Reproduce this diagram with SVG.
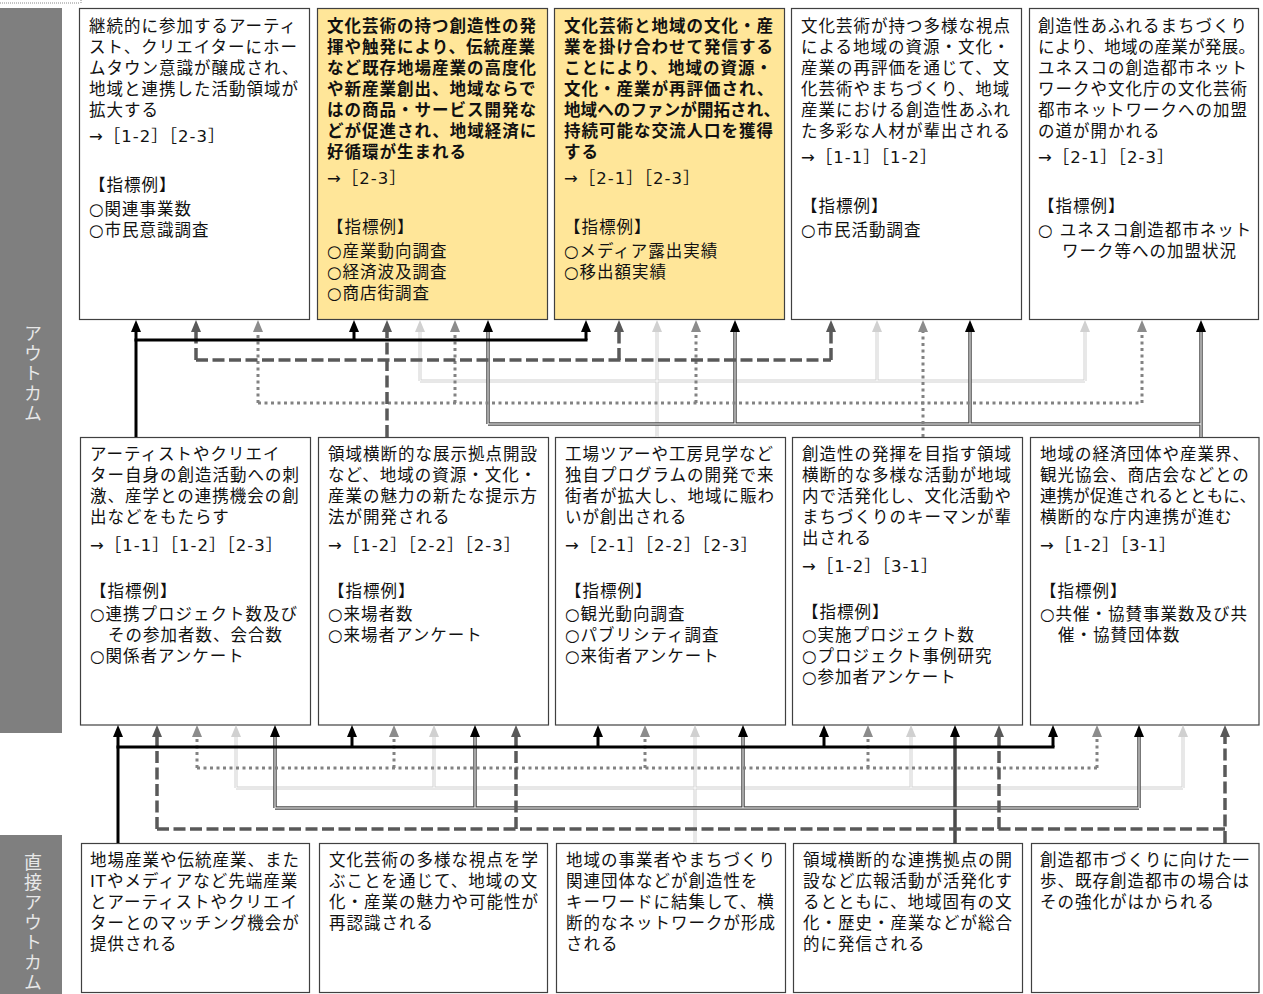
<svg xmlns="http://www.w3.org/2000/svg" width="1263" height="994" viewBox="0 0 1263 994">
<defs>
<style>
.box{fill:#fff;stroke:#404040;stroke-width:1.2}
.yel{fill:#ffe699}
.t{font-family:"DejaVu Sans","Noto Sans CJK JP",sans-serif;font-size:16.5px;letter-spacing:1px;fill:#111}
.b{font-weight:bold}
.side{fill:#7f7f7f}
.st{font-family:"Noto Sans CJK JP",sans-serif;font-size:18px;letter-spacing:2px;fill:#e8e8e8;writing-mode:vertical-rl}
.blk{stroke:#000;stroke-width:3;fill:none}
.dsh{stroke:#595959;stroke-width:3.5;stroke-dasharray:12 4.5;fill:none}
.dot{stroke:#828282;stroke-width:3;stroke-dasharray:3 3.5;fill:none}
.lt{stroke:#d0d0d0;stroke-width:3;fill:none}
.dbl{stroke:#4a4a4a;stroke-width:3.5;fill:none}
.inw{stroke:#fff;stroke-width:1;fill:none}
</style>
<marker id="aK" markerUnits="userSpaceOnUse" markerWidth="12" markerHeight="12" viewBox="0 0 12 12" refX="0" refY="6" orient="auto"><path d="M0,1 L12,6 L0,11 z" fill="#000"/></marker>
<marker id="aD" markerUnits="userSpaceOnUse" markerWidth="12" markerHeight="12" viewBox="0 0 12 12" refX="0" refY="6" orient="auto"><path d="M0,1 L12,6 L0,11 z" fill="#595959"/></marker>
<marker id="aG" markerUnits="userSpaceOnUse" markerWidth="12" markerHeight="12" viewBox="0 0 12 12" refX="0" refY="6" orient="auto"><path d="M0,1 L12,6 L0,11 z" fill="#8c8c8c"/></marker>
<marker id="aL" markerUnits="userSpaceOnUse" markerWidth="12" markerHeight="12" viewBox="0 0 12 12" refX="0" refY="6" orient="auto"><path d="M0,1 L12,6 L0,11 z" fill="#d0d0d0"/></marker>
</defs>
<rect width="1263" height="994" fill="#fff"/>
<path d="M0,3H80M81,0V3" stroke="#888" stroke-width="1" stroke-dasharray="1 1" fill="none"/>

<g id="side-outcome">
<rect class="side" x="0" y="8" width="62" height="725"/>
<text class="st" x="33" y="324">アウトカム</text>
</g>
<g id="side-direct">
<rect class="side" x="0" y="835" width="62" height="159"/>
<text class="st" x="33" y="853">直接アウトカム</text>
</g>

<g id="o1">
<rect class="box" x="79.5" y="8.5" width="230" height="311"/>
<text class="t"><tspan x="89" y="32">継続的に参加するアーティ</tspan><tspan x="89" y="53">スト、クリエイターにホー</tspan><tspan x="89" y="74">ムタウン意識が醸成され、</tspan><tspan x="89" y="95">地域と連携した活動領域が</tspan><tspan x="89" y="116">拡大する</tspan><tspan x="89" y="142">→［1-2］［2-3］</tspan><tspan x="89" y="191">【指標例】</tspan><tspan x="89" y="215">○関連事業数</tspan><tspan x="89" y="236">○市民意識調査</tspan></text>
</g>
<g id="o2">
<rect class="box yel" x="317.5" y="8.5" width="230" height="311"/>
<text class="t b"><tspan x="327" y="32">文化芸術の持つ創造性の発</tspan><tspan x="327" y="53">揮や触発により、伝統産業</tspan><tspan x="327" y="74">など既存地場産業の高度化</tspan><tspan x="327" y="95">や新産業創出、地域ならで</tspan><tspan x="327" y="116">はの商品・サービス開発な</tspan><tspan x="327" y="137">どが促進され、地域経済に</tspan><tspan x="327" y="158">好循環が生まれる</tspan></text>
<text class="t"><tspan x="327" y="184">→［2-3］</tspan><tspan x="327" y="233">【指標例】</tspan><tspan x="327" y="257">○産業動向調査</tspan><tspan x="327" y="278">○経済波及調査</tspan><tspan x="327" y="299">○商店街調査</tspan></text>
</g>
<g id="o3">
<rect class="box yel" x="554.5" y="8.5" width="230" height="311"/>
<text class="t b"><tspan x="564" y="32">文化芸術と地域の文化・産</tspan><tspan x="564" y="53">業を掛け合わせて発信する</tspan><tspan x="564" y="74">ことにより、地域の資源・</tspan><tspan x="564" y="95">文化・産業が再評価され、</tspan><tspan x="564" y="116" textLength="217" lengthAdjust="spacing">地域へのファンが開拓され、</tspan><tspan x="564" y="137">持続可能な交流人口を獲得</tspan><tspan x="564" y="158">する</tspan></text>
<text class="t"><tspan x="564" y="184">→［2-1］［2-3］</tspan><tspan x="564" y="233">【指標例】</tspan><tspan x="564" y="257">○メディア露出実績</tspan><tspan x="564" y="278">○移出額実績</tspan></text>
</g>
<g id="o4">
<rect class="box" x="791.5" y="8.5" width="230" height="311"/>
<text class="t"><tspan x="801" y="32">文化芸術が持つ多様な視点</tspan><tspan x="801" y="53">による地域の資源・文化・</tspan><tspan x="801" y="74">産業の再評価を通じて、文</tspan><tspan x="801" y="95">化芸術やまちづくり、地域</tspan><tspan x="801" y="116">産業における創造性あふれ</tspan><tspan x="801" y="137">た多彩な人材が輩出される</tspan><tspan x="801" y="163">→［1-1］［1-2］</tspan><tspan x="801" y="212">【指標例】</tspan><tspan x="801" y="236">○市民活動調査</tspan></text>
</g>
<g id="o5">
<rect class="box" x="1029.5" y="8.5" width="229" height="311"/>
<text class="t"><tspan x="1038" y="32">創造性あふれるまちづくり</tspan><tspan x="1038" y="53" textLength="218" lengthAdjust="spacing">により、地域の産業が発展。</tspan><tspan x="1038" y="74">ユネスコの創造都市ネット</tspan><tspan x="1038" y="95">ワークや文化庁の文化芸術</tspan><tspan x="1038" y="116">都市ネットワークへの加盟</tspan><tspan x="1038" y="137">の道が開かれる</tspan><tspan x="1038" y="163">→［2-1］［2-3］</tspan><tspan x="1038" y="212">【指標例】</tspan><tspan x="1038" y="236">○ ユネスコ創造都市ネット</tspan><tspan x="1062" y="257">ワーク等への加盟状況</tspan></text>
</g>

<g id="m1">
<rect class="box" x="80.5" y="437.5" width="230" height="287.5"/>
<text class="t"><tspan x="90" y="460">アーティストやクリエイ</tspan><tspan x="90" y="481">ター自身の創造活動への刺</tspan><tspan x="90" y="502">激、産学との連携機会の創</tspan><tspan x="90" y="523">出などをもたらす</tspan><tspan x="90" y="551">→［1-1］［1-2］［2-3］</tspan><tspan x="90" y="597">【指標例】</tspan><tspan x="90" y="620">○連携プロジェクト数及び</tspan><tspan x="108" y="641">その参加者数、会合数</tspan><tspan x="90" y="662">○関係者アンケート</tspan></text>
</g>
<g id="m2">
<rect class="box" x="318.5" y="437.5" width="230" height="287.5"/>
<text class="t"><tspan x="328" y="460">領域横断的な展示拠点開設</tspan><tspan x="328" y="481">など、地域の資源・文化・</tspan><tspan x="328" y="502">産業の魅力の新たな提示方</tspan><tspan x="328" y="523">法が開発される</tspan><tspan x="328" y="551">→［1-2］［2-2］［2-3］</tspan><tspan x="328" y="597">【指標例】</tspan><tspan x="328" y="620">○来場者数</tspan><tspan x="328" y="641">○来場者アンケート</tspan></text>
</g>
<g id="m3">
<rect class="box" x="555.5" y="437.5" width="230" height="287.5"/>
<text class="t"><tspan x="565" y="460">工場ツアーや工房見学など</tspan><tspan x="565" y="481">独自プログラムの開発で来</tspan><tspan x="565" y="502">街者が拡大し、地域に賑わ</tspan><tspan x="565" y="523">いが創出される</tspan><tspan x="565" y="551">→［2-1］［2-2］［2-3］</tspan><tspan x="565" y="597">【指標例】</tspan><tspan x="565" y="620">○観光動向調査</tspan><tspan x="565" y="641">○パブリシティ調査</tspan><tspan x="565" y="662">○来街者アンケート</tspan></text>
</g>
<g id="m4">
<rect class="box" x="792.5" y="437.5" width="230" height="287.5"/>
<text class="t"><tspan x="802" y="460">創造性の発揮を目指す領域</tspan><tspan x="802" y="481">横断的な多様な活動が地域</tspan><tspan x="802" y="502">内で活発化し、文化活動や</tspan><tspan x="802" y="523">まちづくりのキーマンが輩</tspan><tspan x="802" y="544">出される</tspan><tspan x="802" y="572">→［1-2］［3-1］</tspan><tspan x="802" y="618">【指標例】</tspan><tspan x="802" y="641">○実施プロジェクト数</tspan><tspan x="802" y="662">○プロジェクト事例研究</tspan><tspan x="802" y="683">○参加者アンケート</tspan></text>
</g>
<g id="m5">
<rect class="box" x="1030.5" y="437.5" width="228.5" height="287.5"/>
<text class="t"><tspan x="1040" y="460">地域の経済団体や産業界、</tspan><tspan x="1040" y="481">観光協会、商店会などとの</tspan><tspan x="1040" y="502" textLength="217" lengthAdjust="spacing">連携が促進されるとともに、</tspan><tspan x="1040" y="523">横断的な庁内連携が進む</tspan><tspan x="1040" y="551">→［1-2］［3-1］</tspan><tspan x="1040" y="597">【指標例】</tspan><tspan x="1040" y="620">○共催・協賛事業数及び共</tspan><tspan x="1058" y="641">催・協賛団体数</tspan></text>
</g>

<g id="d1">
<rect class="box" x="81.5" y="843.5" width="228" height="149"/>
<text class="t"><tspan x="90" y="866">地場産業や伝統産業、また</tspan><tspan x="90" y="887">ITやメディアなど先端産業</tspan><tspan x="90" y="908">とアーティストやクリエイ</tspan><tspan x="90" y="929">ターとのマッチング機会が</tspan><tspan x="90" y="950">提供される</tspan></text>
</g>
<g id="d2">
<rect class="box" x="319.5" y="843.5" width="228" height="149"/>
<text class="t"><tspan x="329" y="866">文化芸術の多様な視点を学</tspan><tspan x="329" y="887">ぶことを通じて、地域の文</tspan><tspan x="329" y="908">化・産業の魅力や可能性が</tspan><tspan x="329" y="929">再認識される</tspan></text>
</g>
<g id="d3">
<rect class="box" x="556.5" y="843.5" width="229" height="149"/>
<text class="t"><tspan x="566" y="866">地域の事業者やまちづくり</tspan><tspan x="566" y="887">関連団体などが創造性を</tspan><tspan x="566" y="908">キーワードに結集して、横</tspan><tspan x="566" y="929">断的なネットワークが形成</tspan><tspan x="566" y="950">される</tspan></text>
</g>
<g id="d4">
<rect class="box" x="793.5" y="843.5" width="229" height="149"/>
<text class="t"><tspan x="803" y="866">領域横断的な連携拠点の開</tspan><tspan x="803" y="887">設など広報活動が活発化す</tspan><tspan x="803" y="908">るとともに、地域固有の文</tspan><tspan x="803" y="929">化・歴史・産業などが総合</tspan><tspan x="803" y="950">的に発信される</tspan></text>
</g>
<g id="d5">
<rect class="box" x="1031.5" y="843.5" width="227.5" height="149"/>
<text class="t"><tspan x="1040" y="866">創造都市づくりに向けた一</tspan><tspan x="1040" y="887">歩、既存創造都市の場合は</tspan><tspan x="1040" y="908">その強化がはかられる</tspan></text>
</g>

<g id="connectors">
<g class="lt">
<path d="M420,381H1085"/>
<path d="M420,381V332" marker-end="url(#aL)"/>
<path d="M657,437V332" marker-end="url(#aL)"/>
<path d="M877,381V332" marker-end="url(#aL)"/>
<path d="M1085,381V332" marker-end="url(#aL)"/>
</g>
<g class="inw"><path d="M420,381H1085M420,381V332M657,437V332M877,381V332M1085,381V332"/></g>
<g class="dbl">
<path d="M488,424H1201"/>
<path d="M488,424V332" marker-end="url(#aK)"/>
<path d="M735,424V332" marker-end="url(#aK)"/>
<path d="M970,424V332" marker-end="url(#aK)"/>
<path d="M1201,437V332" marker-end="url(#aK)"/>
</g>
<g class="inw"><path d="M488,424H1201M488,424V332M735,424V332M970,424V332M1201,437V332"/></g>
<g class="dot">
<path d="M258,403H1142"/>
<path d="M258,403V332" marker-end="url(#aG)"/>
<path d="M455,403V332" marker-end="url(#aG)"/>
<path d="M696,403V332" marker-end="url(#aG)"/>
<path d="M923,437V332" marker-end="url(#aG)"/>
<path d="M1142,403V332" marker-end="url(#aG)"/>
</g>
<g class="dsh">
<path d="M196,360H831"/>
<path d="M196,360V332" marker-end="url(#aD)"/>
<path d="M387,437V332" marker-end="url(#aD)"/>
<path d="M619,360V332" marker-end="url(#aD)"/>
<path d="M831,360V332" marker-end="url(#aD)"/>
</g>
<g class="blk">
<path d="M134.5,340H587.5"/>
<path d="M136,437V332" marker-end="url(#aK)"/>
<path d="M354,340V332" marker-end="url(#aK)"/>
<path d="M586,340V332" marker-end="url(#aK)"/>
</g>
<g class="lt">
<path d="M236,788H1183"/>
<path d="M236,788V737" marker-end="url(#aL)"/>
<path d="M434,788V737" marker-end="url(#aL)"/>
<path d="M695,843V737" marker-end="url(#aL)"/>
<path d="M911,788V737" marker-end="url(#aL)"/>
<path d="M1183,788V737" marker-end="url(#aL)"/>
</g>
<g class="inw"><path d="M236,788H1183M236,788V737M434,788V737M695,843V737M911,788V737M1183,788V737"/></g>
<g class="dbl">
<path d="M275,808H1139"/>
<path d="M275,808V737" marker-end="url(#aK)"/>
<path d="M475,808V737" marker-end="url(#aK)"/>
<path d="M743,808V737" marker-end="url(#aK)"/>
<path d="M955,843V737" marker-end="url(#aK)"/>
<path d="M1139,808V737" marker-end="url(#aK)"/>
</g>
<g class="inw"><path d="M275,808H1139M275,808V737M475,808V737M743,808V737M1139,808V737"/></g>
<g class="dot">
<path d="M197,768H1097"/>
<path d="M197,768V737" marker-end="url(#aG)"/>
<path d="M394,768V737" marker-end="url(#aG)"/>
<path d="M645,768V737" marker-end="url(#aG)"/>
<path d="M868,768V737" marker-end="url(#aG)"/>
<path d="M1097,768V737" marker-end="url(#aG)"/>
</g>
<g class="dsh">
<path d="M157,829H1225"/>
<path d="M157,829V737" marker-end="url(#aD)"/>
<path d="M516,829V737" marker-end="url(#aD)"/>
<path d="M999,829V737" marker-end="url(#aD)"/>
<path d="M1225,843V737" marker-end="url(#aD)"/>
</g>
<g class="blk">
<path d="M116.5,747H1054.5"/>
<path d="M118,843V737" marker-end="url(#aK)"/>
<path d="M352,747V737" marker-end="url(#aK)"/>
<path d="M598,747V737" marker-end="url(#aK)"/>
<path d="M824,747V737" marker-end="url(#aK)"/>
<path d="M1053,747V737" marker-end="url(#aK)"/>
</g>
</g>
</svg>
